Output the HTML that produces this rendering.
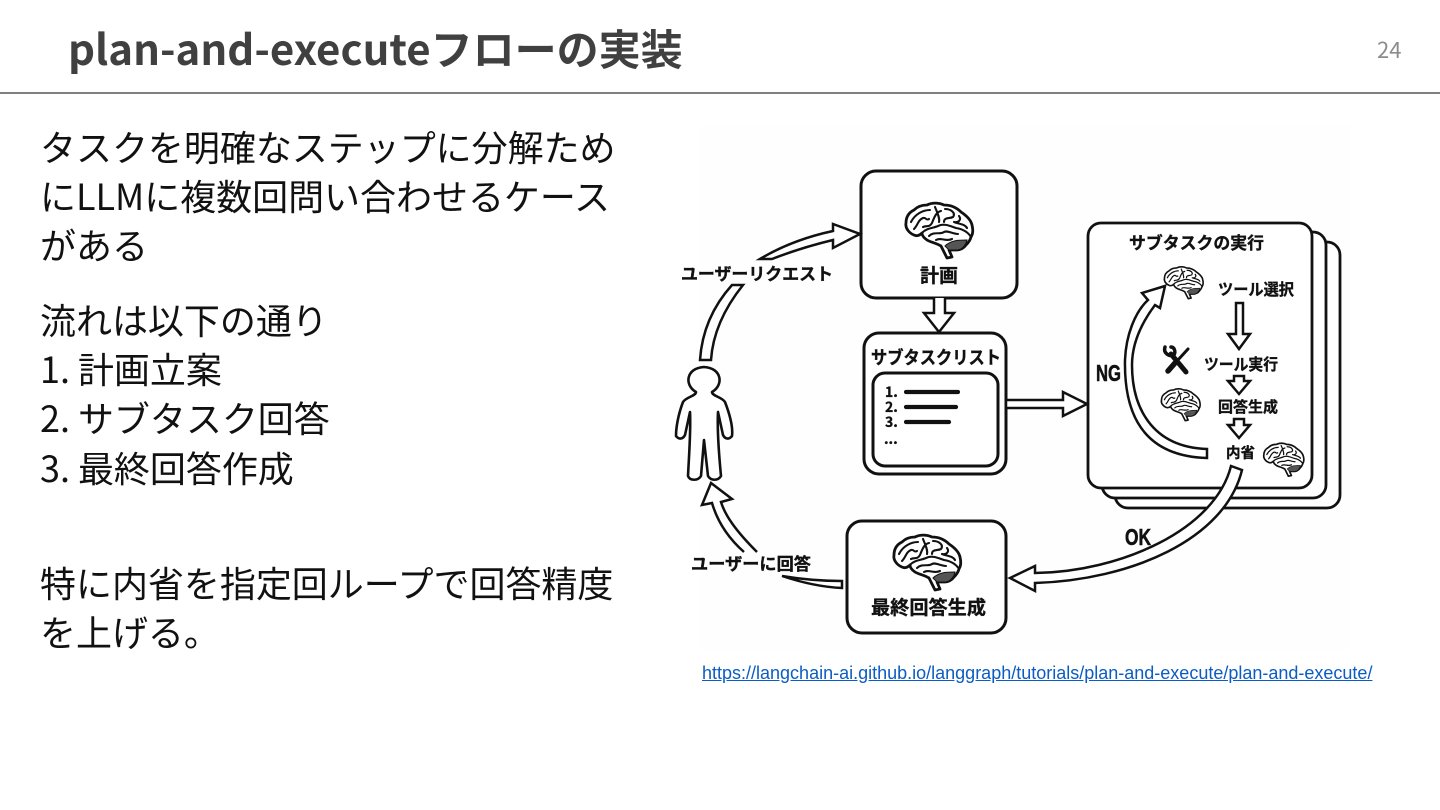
<!DOCTYPE html>
<html lang="ja">
<head>
<meta charset="utf-8">
<style>
html,body{margin:0;padding:0;background:#fff}
body{width:1440px;height:810px;overflow:hidden;position:relative;font-family:"Noto Sans CJK JP",sans-serif}
.t{position:absolute;white-space:nowrap;line-height:50px;font-size:36px;color:#111;left:40px;letter-spacing:-.03px}
#title{position:absolute;left:68px;top:18px;font-size:42px;line-height:60px;font-weight:700;color:#404040;white-space:nowrap}
#num{position:absolute;left:1377px;top:33px;font-size:22px;line-height:32px;color:#8c8c8c}
#rule{position:absolute;left:0;top:92px;width:1440px;height:2px;background:#808080}
#link{position:absolute;left:702px;top:661px;font:18px/24px "Liberation Sans",sans-serif;color:#0b5cc4;text-decoration:underline;white-space:nowrap}
svg{position:absolute;left:0;top:0}
svg text{font-family:"Noto Sans CJK JP",sans-serif;font-weight:700;fill:#111;stroke:#111;stroke-width:.35px}
svg text.n{font-family:"Liberation Sans",sans-serif;stroke-width:.6px}
</style>
</head>
<body>
<div id="title">plan-and-executeフローの実装</div>
<div id="num">24</div>
<div id="rule"></div>

<div class="t" style="top:121px">タスクを明確なステップに分解ため</div>
<div class="t" style="top:170px">にLLMに複数回問い合わせるケース</div>
<div class="t" style="top:219px">がある</div>
<div class="t" style="top:294px">流れは以下の通り</div>
<div class="t" style="top:343px">1. 計画立案</div>
<div class="t" style="top:392px">2. サブタスク回答</div>
<div class="t" style="top:442px">3. 最終回答作成</div>
<div class="t" style="top:557px">特に内省を指定回ループで回答精度</div>
<div class="t" style="top:606px">を上げる。</div>

<svg width="1440" height="810" viewBox="0 0 1440 810">
<defs>
<g id="brain">
<path d="M-32,-8 C-32,-15 -28,-19 -24,-21 C-20,-25 -15,-26 -11,-26 C-5,-29 2,-28 6,-26 C13,-26 19,-23 23,-19 C29,-15 33,-11 34,-6 C35,-2 35,3 33,6 C32,10 30,12 28,14 C26,17 22,19 19,19 L11,19 L14,26 L9,27 L3,15 C-2,12 -8,11 -11,9 C-14,7 -16,5 -16,2 C-19,5 -22,5 -24,4 C-29,2 -33,-3 -32,-8 Z" fill="#fff" stroke="#111" stroke-width="2.8" stroke-linejoin="round"/>
<path d="M-16,2 C-12,-3 -4,-3 0,-5 C6,-8 12,-5 18,-3 C24,-2 30,1 33,6 M-27,-9 C-23,-17 -15,-21 -8,-21 M-24,-2 C-20,-6 -20,-11 -15,-13 C-12,-14 -12,-10 -9,-12 M-15,-4 C-11,-6 -9,-3 -6,-8 C-4,-13 -2,-19 3,-20 M-3,-24 C-1,-19 2,-13 1,-9 M7,-22 C13,-22 18,-18 15,-14 C11,-12 6,-14 6,-9 M21,-15 C24,-11 20,-8 16,-9 C21,-7 27,-7 29,-3 M-9,5 C-4,0 2,4 6,1 C10,-1 14,3 20,3 M-2,9 C3,6 8,11 14,8" fill="none" stroke="#111" stroke-width="2.1" stroke-linecap="round" stroke-linejoin="round"/>
<path d="M7,15 C13,9 21,9 29,9 C28,14 24,19 19,19 L11,19 Z" fill="#555" stroke="#111" stroke-width="1"/>
</g>
</defs>

<rect x="700" y="125" width="650" height="525" fill="#fefefe"/>

<!-- Stacked subtask cards -->
<g fill="#fff" stroke="#111" stroke-width="2.8">
<rect x="1115" y="242" width="225" height="266" rx="13"/>
<rect x="1102" y="232" width="224" height="266" rx="13"/>
<rect x="1088" y="223" width="224" height="265" rx="13"/>
</g>

<!-- Main boxes -->
<g fill="#fff" stroke="#111" stroke-width="3">
<rect x="861" y="171" width="156" height="127" rx="15"/>
<rect x="864" y="333" width="142" height="141" rx="15"/>
<rect x="873" y="373" width="125" height="93" rx="12"/>
<rect x="847" y="521" width="159" height="112" rx="15"/>
</g>

<!-- Block arrows -->
<g fill="#fff" stroke="#111" stroke-width="2.5" stroke-linejoin="miter">
<path d="M700,360 C702,330 714,305 732,285 L743,285 C727,305 713,330 711,360 Z"/>
<path d="M760,259 C780,247 805,237 833,231 L833,224 L860,234 L833,248 L833,240 C812,245 790,252 772,259 Z"/>
<path d="M934,298 L934,313 L924,313 L939,332 L954,313 L945,313 L945,298"/>
<path d="M1006,400 L1063,400 L1063,392 L1087,404 L1063,416 L1063,408 L1006,408 Z"/>
<path d="M1207,458 C1140,456 1124,410 1125,360 C1126,335 1135,312 1148,300 L1142,293 L1165,286 L1160,308 L1155,305 C1140,325 1132,345 1132,365 C1132,405 1150,447 1207,449 Z"/>
<path d="M1231,466 C1215,530 1120,572 1035,573 L1035,566 L1010,578 L1035,591 L1035,583 C1130,580 1225,540 1242,470 Z"/>
<path d="M842,581 C820,581 800,579 782,576 C800,582 820,587 842,588 Z"/>
<path d="M757,552 C735,530 725,515 721,502 L732,499 L711,483 L702,505 L712,503 C717,520 727,537 744,552"/>
<path d="M1236,303 L1236,334 L1228,334 L1239,349 L1250,334 L1243,334 L1243,303 Z"/>
<path d="M1234,376 L1234,381 L1228,381 L1239,394 L1250,381 L1244,381 L1244,376 Z"/>
<path d="M1234,419 L1234,425 L1228,425 L1239,438 L1250,425 L1244,425 L1244,419 Z"/>
</g>

<!-- Brains -->
<use href="#brain" transform="translate(938,231)"/>
<use href="#brain" transform="translate(926,563)"/>
<use href="#brain" transform="translate(1183,283) scale(.58)"/>
<use href="#brain" transform="translate(1180,405) scale(.58)"/>
<use href="#brain" transform="translate(1283,460) scale(.6)"/>

<!-- Person -->
<path d="M696,392 C684,385 686,368 704,367 C722,368 724,385 712,392 C712,396 722,397 725,402 C730,415 733,428 732,436 C729,440 725,439 723,435 L718,412 C717,430 719,455 721,476 C718,481 711,481 708,476 L704,440 L701,476 C698,481 690,481 688,476 C689,455 691,430 690,412 L685,435 C683,439 679,440 676,436 C676,428 678,415 683,402 C686,397 696,396 696,392 Z" fill="#fff" stroke="#111" stroke-width="2.6" stroke-linejoin="round"/>

<!-- List lines -->
<g stroke="#111" stroke-width="4.2" stroke-linecap="round">
<line x1="906" y1="392" x2="958" y2="392"/>
<line x1="906" y1="407" x2="956" y2="407"/>
<line x1="906" y1="422" x2="949" y2="422"/>
</g>

<!-- Tools icon -->
<g stroke="#111" stroke-linecap="round" fill="none">
<line x1="1171" y1="354" x2="1186" y2="372" stroke-width="5"/>
<path d="M1165,347 C1163,353 1169,357 1174,355 C1176,351 1174,347 1171,347" stroke-width="3.5"/>
<line x1="1188" y1="349" x2="1177" y2="361" stroke-width="3"/>
<line x1="1175" y1="363" x2="1168" y2="371" stroke-width="5.5"/>
</g>

<!-- Labels -->
<g text-anchor="start">
<text x="681" y="280" font-size="17" textLength="152" lengthAdjust="spacingAndGlyphs">ユーザーリクエスト</text>
<text x="920" y="282" font-size="19" textLength="38" lengthAdjust="spacingAndGlyphs">計画</text>
<text x="871" y="364" font-size="18" textLength="130" lengthAdjust="spacingAndGlyphs">サブタスクリスト</text>
<text x="1129" y="249" font-size="17" textLength="135" lengthAdjust="spacingAndGlyphs">サブタスクの実行</text>
<text x="1218" y="295" font-size="16" textLength="76" lengthAdjust="spacingAndGlyphs">ツール選択</text>
<text x="1204" y="370" font-size="16" textLength="74" lengthAdjust="spacingAndGlyphs">ツール実行</text>
<text x="1218" y="412" font-size="15" textLength="60" lengthAdjust="spacingAndGlyphs">回答生成</text>
<text x="1226" y="458" font-size="14.5" textLength="29" lengthAdjust="spacingAndGlyphs">内省</text>
<text class="n" x="1096" y="381" font-size="23" textLength="25" lengthAdjust="spacingAndGlyphs">NG</text>
<text class="n" x="1125" y="545" font-size="23" textLength="26" lengthAdjust="spacingAndGlyphs">OK</text>
<text x="691" y="570" font-size="17" textLength="120" lengthAdjust="spacingAndGlyphs">ユーザーに回答</text>
<text x="871" y="614" font-size="19" textLength="115" lengthAdjust="spacingAndGlyphs">最終回答生成</text>
<text x="885" y="397" font-size="14">1.</text>
<text x="885" y="412" font-size="14">2.</text>
<text x="885" y="427" font-size="14">3.</text>
<text x="884" y="444" font-size="14">...</text>
</g>
</svg>

<div id="link">https://langchain-ai.github.io/langgraph/tutorials/plan-and-execute/plan-and-execute/</div>
</body>
</html>
